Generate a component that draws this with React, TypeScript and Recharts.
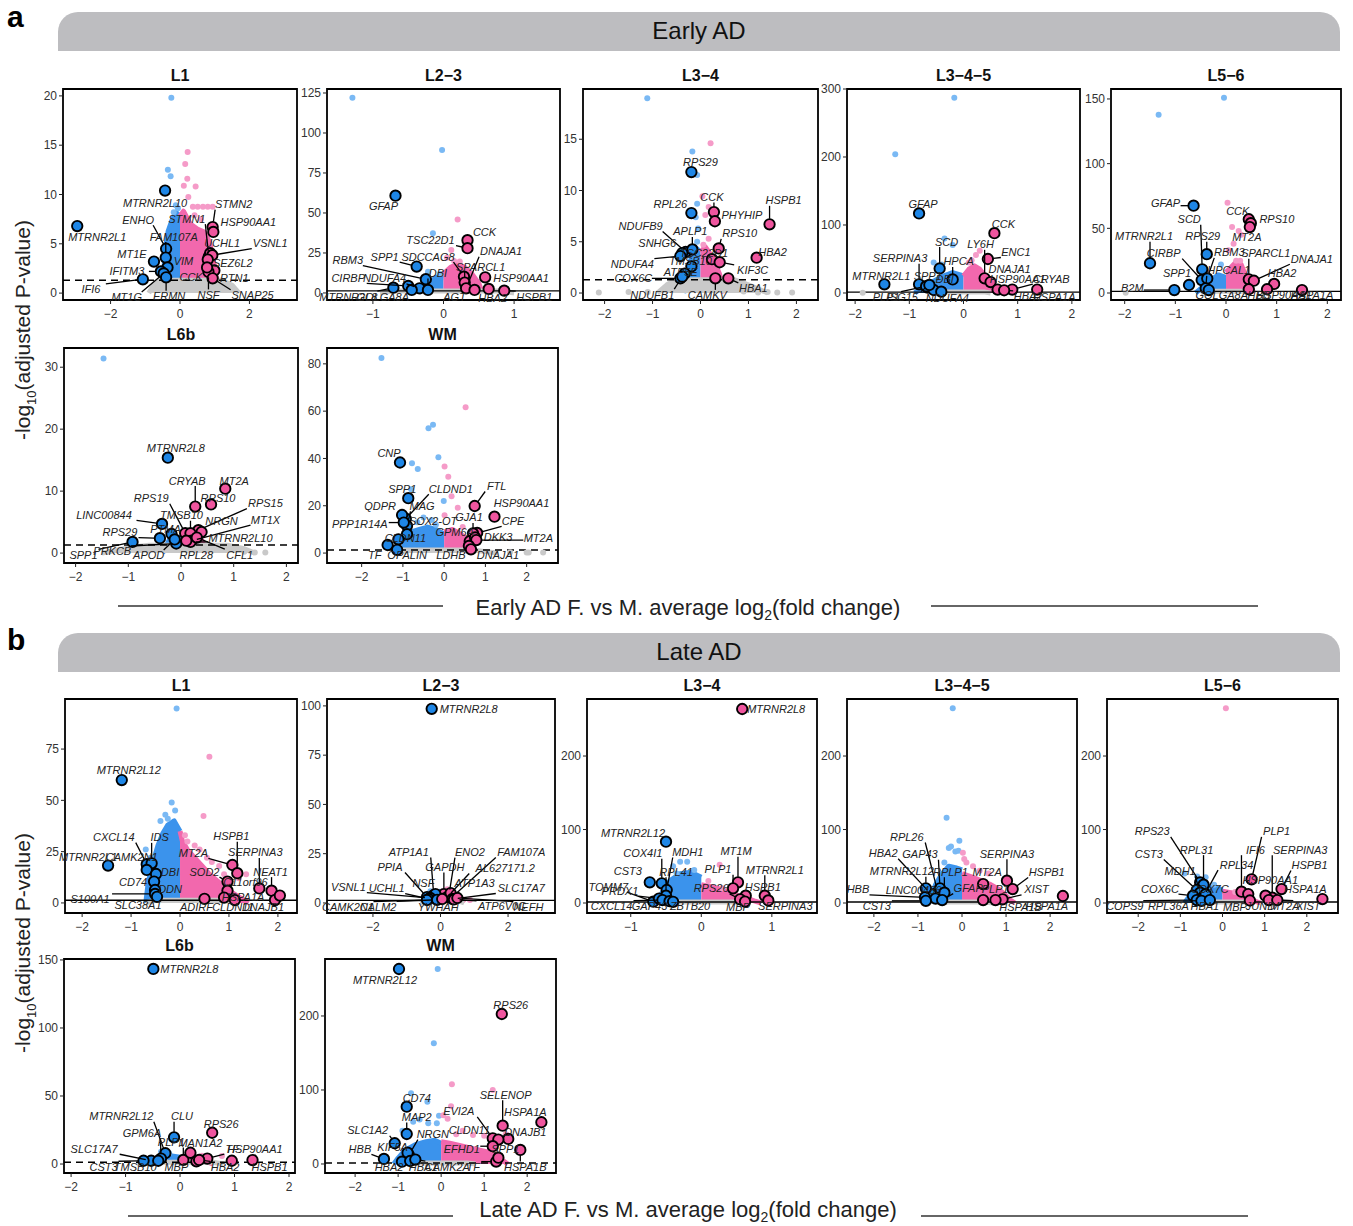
import React from 'react';
import { ComposedChart, XAxis, YAxis, Area, Scatter, ReferenceLine, ReferenceArea } from 'recharts';

type Pt = [number, number];

// ---------- Early AD ----------
const earlyL1Genes = ['MTRNR2L1', 'MTRNR2L10', 'ENHO', 'FAM107A', 'MT1E', 'VIM', 'IFITM3', 'MT1G', 'ERMN', 'IFI6', 'STMN2', 'HSP90AA1', 'STMN1', 'UCHL1', 'VSNL1', 'SEZ6L2', 'RTN1', 'NSF', 'SNAP25', 'CCK'];
const earlyL1Fc = [-2.96, -0.43, -0.4, -0.41, -0.75, -0.36, -0.55, -0.47, -0.4, -1.07, 0.94, 0.96, 0.83, 0.87, 0.93, 0.8, 0.99, 0.82, 0.94, 0.78];
const earlyL1LogP = [6.8, 10.4, 4.5, 3.6, 3.2, 2.6, 2.2, 2.0, 1.6, 1.4, 6.7, 6.2, 3.7, 4.05, 3.85, 3.4, 2.3, 2.15, 1.5, 2.6];
const earlyL1Nudge: Pt[] = [[20, 11], [-10, 12], [-28, -29], [8, -21], [-22, -8], [16, -6], [-34, 0], [-37, 24], [3, 19], [-52, 10], [21, -23], [35, -10], [-22, -38], [12, -10], [58, -12], [25, 3], [20, 8], [0, 23], [40, 17], [-16, 10]];
const earlyL1Faint: Pt[] = [[-0.25, 19.8], [-0.35, 12.5], [-0.27, 11.85], [-0.06, 8.6], [-0.12, 8.9], [-0.18, 8.2], [0.22, 14.3], [0.15, 13.1], [0.21, 11.6], [0.11, 10.9], [0.45, 10.8], [0.24, 9.75], [0.37, 8.75], [0.51, 8.75], [0.66, 8.75], [0.8, 8.75], [0.94, 8.75], [0.42, 7.9], [0.6, 7.5]];
const earlyL1Down: Pt[] = [[-0.5, 0], [-0.47, 2], [-0.42, 4.5], [-0.34, 6.3], [-0.24, 7.3], [-0.12, 8.2], [0, 7.8]];
const earlyL1Up: Pt[] = [[0, 7.8], [0.1, 8.3], [0.3, 7.0], [0.5, 6.5], [0.7, 6.2], [0.85, 5.2], [0.95, 3.5], [1.05, 1.5], [1.1, 0]];
const earlyL1Ns: Pt[] = [[-0.9, 0], [-0.75, 0.9], [-0.55, 1.3], [1.2, 1.3], [1.5, 0.8], [1.7, 0]];

const earlyL23Genes = ['GFAP', 'CCK', 'TSC22D1', 'SPP1', 'SDCCAG8', 'SPARCL1', 'DNAJA1', 'HSP90AA1', 'HBA2', 'HSPB1', 'RBM3', 'NDUFA4', 'CIRBP', 'DBI', 'MTRNR2L8', 'GOLGA8A', 'AGT'];
const earlyL23Fc = [-0.68, 0.34, 0.34, -0.38, 0.29, 0.3, 0.32, 0.59, 0.64, 0.86, -0.25, -0.34, -0.5, -0.22, -0.71, -0.45, 0.44];
const earlyL23LogP = [60.8, 33, 28, 16.5, 10.2, 6.5, 2.9, 9.8, 2.5, 1.4, 8.6, 2.9, 4.4, 1.9, 3.3, 1.9, 1.9];
const earlyL23Nudge: Pt[] = [[-12, 10], [17, -8], [-37, -8], [-32, -10], [-36, -20], [16, -16], [35, -37], [36, 1], [4, 9], [30, 6], [-78, -19], [-35, -10], [-60, -8], [10, -17], [-45, 9], [-29, 7], [-20, 7]];
const earlyL23Faint: Pt[] = [[-1.29, 122], [-0.02, 89.4], [-0.15, 37.3], [0.2, 46], [0.11, 26.9], [-0.22, 13.3], [0.23, 19.6], [0.05, 22], [-0.05, 12], [0.15, 20]];
const earlyL23Down: Pt[] = [[-0.35, 0], [-0.3, 3], [-0.2, 6], [-0.1, 10], [0, 9]];
const earlyL23Up: Pt[] = [[0, 12], [0.1, 16], [0.2, 18], [0.3, 16], [0.4, 12], [0.5, 6], [0.55, 0]];
const earlyL23Ns: Pt[] = [[-0.9, 0], [-0.7, 1.3], [0.8, 1.3], [1.0, 0]];

const earlyL34Genes = ['RPS29', 'RPL26', 'CCK', 'PHYHIP', 'HSPB1', 'NDUFB9', 'APLP1', 'SNHG6', 'NDUFA4', 'RPS10', 'TSC22D1', 'TMSB10', 'HBA2', 'KIF3C', 'ATP5E', 'COX6C', 'HBA1', 'NDUFB1', 'CAMKV'];
const earlyL34Fc = [-0.19, -0.19, 0.28, 0.3, 1.44, -0.31, -0.17, -0.38, -0.42, 0.38, 0.24, -0.19, 1.17, 0.4, -0.33, -0.42, 0.58, -0.38, 0.31];
const earlyL34LogP = [11.8, 7.8, 7.9, 7.0, 6.7, 4.0, 4.25, 3.9, 3.6, 4.35, 3.3, 2.6, 3.45, 3.0, 1.9, 1.43, 1.43, 1.6, 1.43];
const earlyL34Nudge: Pt[] = [[9, -10], [-21, -9], [-2, -15], [27, -6], [14, -24], [-45, -26], [-2, -18], [-25, -10], [-48, 8], [21, -15], [-8, -6], [-1, -5], [16, -6], [33, 8], [-4, -2], [-47, 0], [25, 10], [-30, 18], [-8, 17]];
const earlyL34Faint: Pt[] = [[-1.11, 19.0], [0.21, 14.6], [-0.17, 13.8], [-0.07, 11.5], [0.04, 9.45], [-0.07, 8.7], [0.1, 7.6], [0.17, 8.4], [-0.1, 7.4], [-0.05, 6.3], [-0.07, 5.0], [0.17, 5.3], [0.06, 4.7], [-2.12, 0.05], [1.91, 0.05], [-1.5, 0.1], [1.2, 0.05], [1.4, 0.1], [0.9, 0.15], [-1.1, 0.1], [1.6, 0.05]];
const earlyL34Down: Pt[] = [[-0.35, 0], [-0.25, 2.5], [-0.12, 4.5], [0, 4]];
const earlyL34Up: Pt[] = [[0, 4], [0.1, 4.5], [0.25, 3.5], [0.4, 1.8], [0.5, 0]];
const earlyL34Ns: Pt[] = [[-0.9, 0], [-0.7, 0.8], [-0.5, 1.3], [0.7, 1.3], [1.0, 0.8], [1.4, 0]];

const earlyL345Genes = ['GFAP', 'CCK', 'SCD', 'LY6H', 'DNAJA1', 'ENC1', 'HPCA', 'SERPINA3', 'MTRNR2L1', 'SPP1', 'DBI', 'NDUFA4', 'HSP90AA1', 'CRYAB', 'HBA2', 'HSPA1A', 'PLP1', 'ISG15'];
const earlyL345Fc = [-0.82, 0.57, -0.44, 0.39, 0.5, 0.45, -0.2, -0.82, -1.46, -0.66, -0.55, -0.41, 0.63, 0.9, 0.75, 1.36, -0.69, -0.63];
const earlyL345LogP = [117, 88, 36, 21.6, 16, 50, 20, 12.8, 12.8, 8, 4.4, 2, 5, 5, 4, 5, 10, 11.8];
const earlyL345Nudge: Pt[] = [[4, -9], [9, -9], [7, -27], [-4, -34], [19, -13], [28, -7], [6, -18], [-19, -26], [-3, -8], [0, -12], [11, -11], [6, 6], [20, -11], [39, -11], [24, 6], [17, 7], [-40, 11], [-27, 12]];
const earlyL345Faint: Pt[] = [[-0.17, 287], [-1.26, 204], [-0.35, 80], [-0.2, 70.6], [0.23, 56], [0.3, 62], [-0.55, 45], [-0.4, 42], [-1.86, 0.3], [0.1, 45], [0.15, 48]];
const earlyL345Down: Pt[] = [[-0.9, 0], [-0.8, 6], [-0.6, 15], [-0.4, 24], [-0.2, 30], [0, 25]];
const earlyL345Up: Pt[] = [[0, 25], [0.1, 35], [0.2, 40], [0.3, 35], [0.45, 20], [0.55, 8], [0.6, 0]];
const earlyL345Ns: Pt[] = [[-0.5, 0], [-0.4, 1.3], [0.4, 1.3], [0.5, 0]];

const earlyL56Genes = ['GFAP', 'CCK', 'RPS10', 'MT2A', 'SCD', 'MTRNR2L1', 'CIRBP', 'RBM3', 'HPCAL1', 'RPS29', 'SPP1', 'B2M', 'SPARCL1', 'DNAJA1', 'HBA2', 'GOLGA8A', 'HBB', 'HSP90AA1', 'HSPA1A'];
const earlyL56Fc = [-0.64, 0.45, 0.49, 0.47, -0.47, -1.5, -0.48, -0.37, -0.4, -0.38, -0.73, -1.02, 0.45, 0.55, 0.95, -0.34, 0.45, 0.81, 1.5];
const earlyL56LogP = [67.5, 57, 54, 51, 18.3, 23, 10, 11.3, 3.6, 30, 6.2, 2.3, 10.6, 9.5, 7, 2.3, 2.9, 2.9, 2.3];
const earlyL56Nudge: Pt[] = [[-28, -3], [-11, -8], [26, -4], [-3, 10], [-13, -50], [-6, -27], [-38, -27], [22, -26], [23, -18], [-4, -18], [-12, -12], [-42, -2], [17, -26], [58, -22], [8, -11], [13, 5], [10, 6], [17, 6], [10, 5]];
const earlyL56Faint: Pt[] = [[-0.04, 151], [-1.33, 137.7], [0.03, 69.8], [0.12, 51], [0.25, 48], [0.3, 45], [0.15, 38], [0.05, 33], [-0.1, 22], [0.2, 25], [0.28, 25], [-1.98, 0.3]];
const earlyL56Down: Pt[] = [[-0.6, 0], [-0.45, 5], [-0.3, 10], [-0.15, 14], [0, 12]];
const earlyL56Up: Pt[] = [[0, 16], [0.1, 20], [0.2, 24], [0.3, 22], [0.4, 12], [0.5, 4], [0.55, 0]];
const earlyL56Ns: Pt[] = [[-0.5, 0], [-0.4, 1.3], [0.4, 1.3], [0.5, 0]];

const earlyL6bGenes = ['MTRNR2L8', 'MT2A', 'CRYAB', 'RPS10', 'RPS15', 'RPS19', 'LINC00844', 'TMSB10', 'NRGN', 'MT1X', 'RPS29', 'PTMA', 'MTRNR2L10', 'SPP1', 'PRKCB', 'APOD', 'RPL28', 'CFL1'];
const earlyL6bFc = [-0.25, 0.84, 0.27, 0.57, 0.33, 0.08, -0.36, 0.18, 0.39, 0.2, -0.4, -0.18, 0.18, -0.92, -0.09, -0.12, 0.1, 0.3];
const earlyL6bLogP = [15.4, 10.4, 7.5, 7.85, 3.7, 3.2, 4.7, 3.2, 3.4, 2.0, 2.4, 3.1, 1.8, 1.8, 1.55, 2.2, 2.0, 2.5];
const earlyL6bNudge: Pt[] = [[8, -10], [9, -8], [-8, -26], [7, -6], [67, -27], [-34, -35], [-58, -9], [-9, -18], [20, -11], [74, -21], [-40, -6], [-6, -5], [50, -4], [-49, 13], [-64, 8], [-26, 16], [10, 14], [43, 17]];
const earlyL6bFaint: Pt[] = [[-1.47, 31.4], [1.4, 0.1], [1.6, 0.1], [1.2, 0.2]];
const earlyL6bDown: Pt[] = [[-0.35, 0], [-0.2, 2.5], [0, 2.5]];
const earlyL6bUp: Pt[] = [[0, 3], [0.2, 3.2], [0.4, 2], [0.5, 0]];
const earlyL6bNs: Pt[] = [[-1.5, 0], [-1.2, 0.5], [-0.9, 1.0], [-0.6, 1.25], [0.9, 1.25], [1.2, 0.7], [1.4, 0]];

const earlyWMGenes = ['CNP', 'SPP1', 'CLDND1', 'FTL', 'HSP90AA1', 'CPE', 'QDPR', 'MAG', 'PPP1R14A', 'SOX2-OT', 'GJA1', 'GPM6A', 'DKK3', 'MT2A', 'CLDN11', 'TF', 'OPALIN', 'LDHB', 'DNAJA1'];
const earlyWMFc = [-1.07, -0.87, -0.93, 0.74, 1.22, 0.8, -1.02, -0.9, -0.98, -0.9, 0.7, 0.62, 0.75, 0.78, -1.11, -1.37, -1.14, 0.6, 0.65];
const earlyWMLogP = [38.3, 23.2, 14.5, 19.9, 15.4, 8.5, 16.1, 11.5, 12.9, 8, 8.3, 5, 6.6, 5.5, 5.8, 3.4, 1.35, 3, 1.6];
const earlyWMNudge: Pt[] = [[-11, -9], [-6, -9], [45, -30], [22, -20], [27, -14], [36, -12], [-22, -9], [15, -20], [-44, 1], [26, -13], [-4, -16], [-15, -9], [23, 0], [62, -2], [7, -1], [-13, 10], [10, 5], [-18, 9], [27, 6]];
const earlyWMFaint: Pt[] = [[-1.52, 82.5], [0.52, 61.7], [-0.38, 52.8], [-0.27, 54.2], [-0.14, 40.5], [-0.78, 38], [-0.64, 35.5], [0.01, 36.6], [0.1, 32.3], [0.18, 24], [-0.01, 22], [0.33, 19.2], [0.01, 16], [-0.8, 27], [-0.5, 15], [-0.3, 14], [0.45, 11], [-0.2, 12], [-0.65, 13], [2.0, 0.2], [2.05, 0.2], [2.4, 0.2], [1.6, 0.3]];
const earlyWMDown: Pt[] = [[-1.0, 0], [-0.95, 6], [-0.8, 9], [-0.6, 10], [-0.4, 11], [-0.2, 10], [0, 8]];
const earlyWMUp: Pt[] = [[0, 9], [0.2, 10], [0.4, 8], [0.55, 6], [0.65, 2], [0.7, 0]];
const earlyWMNs: Pt[] = [[-1.2, 0], [-1.0, 1.3], [0.7, 1.3], [1.0, 0.6], [1.3, 0]];

// ---------- Late AD ----------
const lateL1Genes = ['MTRNR2L12', 'MTRNR2L1', 'CXCL14', 'IDS', 'CAMK2N1', 'DBI', 'CD74', 'DDN', 'S100A1', 'SLC38A1', 'MT2A', 'HSPB1', 'SERPINA3', 'SOD2', 'C11orf96', 'NEAT1', 'HSPA1A', 'CLDN11', 'DNAJB1', '', 'ADIRF'];
const lateL1Fc = [-1.19, -1.47, -0.68, -0.58, -0.68, -0.49, -0.53, -0.51, -0.51, -0.47, 1.07, 1.17, 1.62, 0.97, 0.97, 1.87, 0.9, 1.12, 1.94, 2.04, 0.5];
const lateL1LogP = [59.9, 18.2, 18.9, 19.3, 16.1, 14.1, 10.4, 6.3, 4.4, 3, 18.5, 14.5, 7.1, 10.4, 6, 6, 2.6, 1.4, 1.4, 3.6, 2];
const lateL1Nudge: Pt[] = [[7, -10], [-20, -9], [-33, -27], [8, -26], [-15, -13], [14, -2], [-21, 0], [15, -1], [-65, 5], [-19, 8], [-39, -12], [-6, -37], [-4, -36], [-23, -10], [18, -9], [-1, -19], [19, -1], [-2, 7], [-12, 7], [0, 0], [-8, 8]];
const lateL1Faint: Pt[] = [[-0.07, 94.8], [0.6, 71.3], [-0.17, 48.9], [0.48, 42.4], [-0.3, 43], [-0.4, 40], [-0.25, 41], [0.15, 30], [0.3, 28], [0.4, 26], [0.55, 22], [0.65, 20], [0.8, 18], [1.0, 19], [1.35, 14], [1.2, 12], [0.9, 14], [-0.7, 26], [-0.6, 22], [0.1, 33], [-0.1, 45]];
const lateL1Down: Pt[] = [[-0.7, 0], [-0.65, 10], [-0.55, 20], [-0.45, 28], [-0.35, 34], [-0.25, 38], [-0.12, 40], [0, 35]];
const lateL1Up: Pt[] = [[0, 35], [0.05, 30], [0.15, 26], [0.3, 22], [0.45, 18], [0.6, 14], [0.8, 10], [1.0, 6], [1.2, 3], [1.4, 0]];
const lateL1Ns: Pt[] = [[-0.7, 0], [-0.5, 1.3], [0.9, 1.3], [1.2, 0]];

const lateL23Genes = ['MTRNR2L8', 'ATP1A1', 'ENO2', 'FAM107A', 'PPIA', 'GAPDH', 'AL627171.2', 'NSF', 'ATP1A3', 'SLC17A7', 'VSNL1', 'UCHL1', 'CAMK2N1', 'CALM2', 'YWHAH', 'ATP6V0C', 'NEFH'];
const lateL23Fc = [-0.26, -0.2, 0.25, 0.35, -0.4, 0.1, 0.2, -0.15, 0.3, 0.35, -0.3, -0.35, -0.4, -0.1, 0.05, 0.4, 0.5];
const lateL23LogP = [98.5, 4, 4, 3, 3, 4.5, 3, 4.5, 5, 2, 2.5, 2, 1.5, 1.6, 2, 1.8, 2.5];
const lateL23Nudge: Pt[] = [[37, 0], [-25, -43], [21, -43], [69, -45], [-37, -30], [1, -27], [58, -29], [-12, -11], [24, -10], [69, -11], [-82, -11], [-42, -11], [-79, 7], [-59, 7], [-4, 8], [48, 7], [71, 9]];
const lateL23Faint: Pt[] = [[0.87, 1.5], [-0.3, 6], [0.2, 7], [0.4, 4], [0.6, 2.5]];
const lateL23Down: Pt[] = [[-0.5, 0], [-0.4, 3], [-0.2, 5], [0, 6]];
const lateL23Up: Pt[] = [[0, 6], [0.2, 6], [0.4, 4], [0.6, 2], [0.7, 0]];
const lateL23Ns: Pt[] = [[-0.6, 0], [-0.4, 1.3], [0.5, 1.3], [0.7, 0]];

const lateL34Genes = ['MTRNR2L8', 'MTRNR2L12', 'COX4I1', 'MDH1', 'CST3', 'RPL41', 'TOMM7', 'PRDX1', 'CXCL14', 'GAP43', 'MT1M', 'PLP1', 'MTRNR2L1', 'HSPB1', 'RPS26', 'SERPINA3', 'MBP', 'ZBTB20'];
const lateL34Fc = [0.58, -0.5, -0.56, -0.49, -0.73, -0.5, -0.68, -0.6, -0.55, -0.45, 0.52, 0.45, 0.9, 0.63, 0.55, 0.95, 0.62, -0.4];
const lateL34LogP = [264, 83.4, 26.8, 17.7, 28.1, 10, 1.8, 6, 4, 2.5, 28.1, 20, 10, 10, 5, 3.5, 2, 1.6];
const lateL34Nudge: Pt[] = [[34, 0], [-33, -9], [-19, -30], [21, -38], [-22, -11], [10, -24], [-45, -15], [-39, -8], [-51, 6], [-20, 5], [-2, -31], [-15, -19], [10, -26], [17, -9], [-29, -11], [17, 6], [-7, 5], [17, 4]];
const lateL34Faint: Pt[] = [[-0.3, 56], [-0.2, 56], [-0.4, 50], [-0.1, 45], [-0.35, 40], [0.26, 52], [0.5, 24], [0.3, 20], [0.1, 30]];
const lateL34Down: Pt[] = [[-0.65, 0], [-0.55, 15], [-0.45, 30], [-0.3, 40], [-0.15, 42], [0, 35]];
const lateL34Up: Pt[] = [[0, 25], [0.15, 22], [0.3, 18], [0.45, 12], [0.6, 8], [0.75, 3], [0.85, 0]];
const lateL34Ns: Pt[] = [[-0.5, 0], [-0.3, 1.3], [0.5, 1.3], [0.7, 0]];

const lateL345Genes = ['RPL26', 'HBA2', 'GAP43', 'MTRNR2L12', 'RPLP1', 'HBB', 'LINC00486', 'GFAP', 'CST3', 'SERPINA3', 'MT2A', 'HSPB1', 'XIST', 'PLP1', 'HSPA1A', 'HSPA1B'];
const lateL345Fc = [-0.55, -0.7, -0.5, -0.82, -0.4, -0.84, -0.6, -0.45, -0.82, 1.02, 0.48, 1.15, 0.92, 0.48, 2.29, 0.76];
const lateL345LogP = [15, 12, 20, 20, 14, 7.7, 6, 4, 3, 30.4, 25.8, 19, 5, 4, 9.5, 4];
const lateL345Nudge: Pt[] = [[-31, -55], [-48, -41], [-20, -34], [-24, -17], [6, -21], [-67, -8], [-22, -9], [26, -12], [-49, 5], [0, -27], [4, -12], [34, -17], [34, -10], [12, -11], [-16, 10], [25, 7]];
const lateL345Faint: Pt[] = [[-0.21, 265], [-0.35, 116], [-0.06, 84.8], [-0.3, 75], [-0.25, 77], [-0.15, 70], [-0.08, 71], [0.02, 68.5], [0.05, 60], [0.1, 55], [-0.4, 55], [0.25, 50], [0.6, 40], [0.4, 44]];
const lateL345Down: Pt[] = [[-0.75, 0], [-0.7, 10], [-0.6, 25], [-0.45, 40], [-0.3, 50], [-0.15, 48], [0, 45]];
const lateL345Up: Pt[] = [[0, 40], [0.1, 38], [0.25, 35], [0.45, 30], [0.65, 25], [0.85, 18], [1.0, 10], [1.1, 4], [1.2, 0]];
const lateL345Ns: Pt[] = [[-0.5, 0], [-0.3, 1.3], [0.5, 1.3], [0.7, 0]];

const lateL56Genes = ['RPS23', 'RPL31', 'CST3', 'MDH1', 'RPL34', 'COX6C', 'COX7C', 'COPS9', 'RPL36A', 'HBA1', 'PLP1', 'IFI6', 'SERPINA3', 'HSPB1', 'HSP90AA1', 'HSPA1A', 'MBP', 'JUND', 'MT2A', 'XIST'];
const lateL56Fc = [-0.53, -0.45, -0.61, -0.53, -0.45, -0.7, -0.4, -0.61, -0.5, -0.3, 0.69, 0.45, 1.18, 1.4, 0.61, 2.37, 0.65, 1.02, 1.1, 1.3];
const lateL56LogP = [28, 25, 17.7, 14, 8.6, 10, 12, 4, 3, 4, 32.2, 15.4, 7.3, 19, 12.2, 5.4, 3.4, 10, 4, 4];
const lateL56Nudge: Pt[] = [[-48, -51], [-7, -35], [-48, -36], [-20, -22], [33, -32], [-33, -7], [4, -5], [-72, 6], [-33, 5], [-5, 6], [25, -48], [14, -42], [28, -48], [28, -24], [22, -14], [-17, -10], [-15, 6], [-5, 10], [16, 6], [31, 6]];
const lateL56Faint: Pt[] = [[0.08, 265], [-0.9, 40], [-0.4, 35], [-0.6, 36], [-0.2, 25], [0.3, 15], [0.5, 12]];
const lateL56Down: Pt[] = [[-0.9, 0], [-0.8, 8], [-0.6, 15], [-0.4, 20], [-0.2, 22], [0, 18]];
const lateL56Up: Pt[] = [[0, 16], [0.2, 14], [0.4, 10], [0.6, 6], [0.8, 2], [0.9, 0]];
const lateL56Ns: Pt[] = [[-0.5, 0], [-0.3, 1.3], [0.5, 1.3], [0.7, 0]];

const lateL6bGenes = ['MTRNR2L8', 'RPS26', 'CLU', 'MTRNR2L12', 'GPM6A', 'SLC17A7', 'PLP1', 'MAN1A2', 'TF', 'HSP90AA1', 'HSPB1', 'CST3', 'TMSB10', 'MBP', 'HBA2'];
const lateL6bFc = [-0.49, 0.59, -0.11, -0.27, -0.35, -0.53, 0.06, 0.19, 0.5, 0.95, 1.33, -0.67, -0.4, 0.3, 0.35];
const lateL6bLogP = [143.4, 23, 19.6, 7.9, 4, 2.4, 3, 8.3, 4, 2.4, 2.9, 2.4, 2.4, 2, 3];
const lateL6bNudge: Pt[] = [[36, 0], [9, -9], [8, -21], [-44, -37], [-19, -26], [-57, -12], [-12, -18], [10, -10], [25, -10], [23, -12], [17, 7], [-40, 6], [-23, 6], [-20, 6], [26, 7]];
const lateL6bFaint: Pt[] = [[0.77, 5.9], [0.55, 4], [0.4, 6], [-0.2, 8], [-0.35, 9]];
const lateL6bDown: Pt[] = [[-0.5, 0], [-0.35, 4], [-0.15, 6], [0, 5]];
const lateL6bUp: Pt[] = [[0, 5], [0.2, 5], [0.4, 3], [0.6, 0]];
const lateL6bNs: Pt[] = [[-0.8, 0], [-0.6, 1.3], [0.6, 1.3], [0.8, 0]];

const lateWMGenes = ['MTRNR2L12', 'RPS26', 'CD74', 'MAP2', 'SLC1A2', 'NRGN', 'HBB', 'KIF5A', 'HBA2', 'HBA1', 'CAMK2A', 'TF', 'SELENOP', 'HSPA1A', 'EVI2A', 'DNAJB1', 'CLDN11', 'EFHD1', 'SPP1', 'HSPA1B'];
const lateWMFc = [-0.98, 1.41, -0.8, -0.8, -1.08, -0.75, -1.33, -0.78, -0.91, -0.72, -0.6, 1.28, 1.43, 2.33, 1.2, 1.56, 1.33, 1.2, 1.33, 1.84];
const lateWMLogP = [263.5, 202.7, 77.4, 40.5, 28, 12, 6.8, 15.3, 3.1, 4, 6, 3.2, 51.8, 56.4, 34.7, 33.8, 33, 24, 8.5, 19];
const lateWMNudge: Pt[] = [[-14, 11], [9, -9], [10, -9], [10, -17], [-27, -13], [24, -21], [-24, -10], [-15, -6], [-13, 5], [13, 6], [32, 7], [-23, 5], [3, -31], [-16, -10], [-34, -27], [17, -7], [-29, -10], [-31, 3], [7, -9], [5, 17]];
const lateWMFaint: Pt[] = [[-0.08, 263.5], [-0.17, 163], [-0.7, 95.5], [-0.32, 84], [-0.5, 60], [-0.65, 57], [-0.3, 55], [-0.1, 55], [-0.9, 45], [-0.05, 65], [0.25, 107.7], [0.23, 78], [1.2, 100], [0.05, 66], [0.15, 61], [0.74, 39], [0.5, 45], [1.0, 38], [0.35, 40], [1.5, 40]];
const lateWMDown: Pt[] = [[-1.1, 0], [-1.0, 8], [-0.85, 18], [-0.6, 26], [-0.35, 30], [-0.15, 32], [0, 28]];
const lateWMUp: Pt[] = [[0, 30], [0.2, 28], [0.5, 24], [0.8, 20], [1.1, 16], [1.3, 10], [1.45, 4], [1.55, 0]];
const lateWMNs: Pt[] = [[-0.8, 0], [-0.6, 1.3], [0.6, 1.3], [0.8, 0]];

// ---------- styling ----------
const FONT = '"Liberation Sans", Arial, Helvetica, sans-serif';
const SIG = 1.3; // -log10(0.05)
const HIT_DOWN = '#1e86e6';
const HIT_UP = '#ef559e';
const CLOUD_DOWN = '#3b93ec';
const CLOUD_UP = '#f268ad';
const FAINT_DOWN = '#7ab9f4';
const FAINT_UP = '#f59bc8';
const NS_GREY = '#c9c9c9';
const PAD_TOP = 10;

interface PanelSpec {
  title: string;
  box: [number, number, number, number]; // left, top, width, height of plotting area
  xDomain: [number, number];
  xTicks: number[];
  yDomain: [number, number];
  yTicks: number[];
  dashed: boolean;
  genes: string[];
  fc: number[];
  logp: number[];
  nudge: Pt[];
  faint: Pt[];
  down: Pt[];
  up: Pt[];
  ns: Pt[];
}

const X5 = [-2, -1, 0, 1, 2];

const earlyPanels: PanelSpec[] = [
  { title: 'L1', box: [63, 89, 234, 211], xDomain: [-3.37, 3.37], xTicks: [-2, 0, 2], yDomain: [-0.7, 20.7], yTicks: [0, 5, 10, 15, 20], dashed: true,
    genes: earlyL1Genes, fc: earlyL1Fc, logp: earlyL1LogP, nudge: earlyL1Nudge, faint: earlyL1Faint, down: earlyL1Down, up: earlyL1Up, ns: earlyL1Ns },
  { title: 'L2\u22123', box: [327, 89, 233, 211], xDomain: [-1.65, 1.65], xTicks: [-1, 0, 1], yDomain: [-4.4, 127.5], yTicks: [0, 25, 50, 75, 100, 125], dashed: false,
    genes: earlyL23Genes, fc: earlyL23Fc, logp: earlyL23LogP, nudge: earlyL23Nudge, faint: earlyL23Faint, down: earlyL23Down, up: earlyL23Up, ns: earlyL23Ns },
  { title: 'L3\u22124', box: [583, 89, 235, 211], xDomain: [-2.45, 2.45], xTicks: X5, yDomain: [-0.68, 19.9], yTicks: [0, 5, 10, 15], dashed: true,
    genes: earlyL34Genes, fc: earlyL34Fc, logp: earlyL34LogP, nudge: earlyL34Nudge, faint: earlyL34Faint, down: earlyL34Down, up: earlyL34Up, ns: earlyL34Ns },
  { title: 'L3\u22124\u22125', box: [847, 89, 233, 211], xDomain: [-2.15, 2.15], xTicks: X5, yDomain: [-10.3, 300], yTicks: [0, 100, 200, 300], dashed: false,
    genes: earlyL345Genes, fc: earlyL345Fc, logp: earlyL345LogP, nudge: earlyL345Nudge, faint: earlyL345Faint, down: earlyL345Down, up: earlyL345Up, ns: earlyL345Ns },
  { title: 'L5\u22126', box: [1111, 89, 230, 211], xDomain: [-2.27, 2.27], xTicks: X5, yDomain: [-5.4, 157.7], yTicks: [0, 50, 100, 150], dashed: false,
    genes: earlyL56Genes, fc: earlyL56Fc, logp: earlyL56LogP, nudge: earlyL56Nudge, faint: earlyL56Faint, down: earlyL56Down, up: earlyL56Up, ns: earlyL56Ns },
  { title: 'L6b', box: [64, 348, 234, 215], xDomain: [-2.22, 2.22], xTicks: X5, yDomain: [-1.6, 33.1], yTicks: [0, 10, 20, 30], dashed: true,
    genes: earlyL6bGenes, fc: earlyL6bFc, logp: earlyL6bLogP, nudge: earlyL6bNudge, faint: earlyL6bFaint, down: earlyL6bDown, up: earlyL6bUp, ns: earlyL6bNs },
  { title: 'WM', box: [327, 348, 231, 215], xDomain: [-2.84, 2.76], xTicks: X5, yDomain: [-4.2, 86.7], yTicks: [0, 20, 40, 60, 80], dashed: true,
    genes: earlyWMGenes, fc: earlyWMFc, logp: earlyWMLogP, nudge: earlyWMNudge, faint: earlyWMFaint, down: earlyWMDown, up: earlyWMUp, ns: earlyWMNs },
];

const latePanels: PanelSpec[] = [
  { title: 'L1', box: [65, 699, 232, 214], xDomain: [-2.35, 2.39], xTicks: X5, yDomain: [-4.9, 99.4], yTicks: [0, 25, 50, 75], dashed: false,
    genes: lateL1Genes, fc: lateL1Fc, logp: lateL1LogP, nudge: lateL1Nudge, faint: lateL1Faint, down: lateL1Down, up: lateL1Up, ns: lateL1Ns },
  { title: 'L2\u22123', box: [327, 699, 228, 214], xDomain: [-3.36, 3.39], xTicks: [-2, 0, 2], yDomain: [-5.1, 103.5], yTicks: [0, 25, 50, 75, 100], dashed: false,
    genes: lateL23Genes, fc: lateL23Fc, logp: lateL23LogP, nudge: lateL23Nudge, faint: lateL23Faint, down: lateL23Down, up: lateL23Up, ns: lateL23Ns },
  { title: 'L3\u22124', box: [587, 699, 230, 214], xDomain: [-1.62, 1.64], xTicks: [-1, 0, 1], yDomain: [-13.6, 277.6], yTicks: [0, 100, 200], dashed: false,
    genes: lateL34Genes, fc: lateL34Fc, logp: lateL34LogP, nudge: lateL34Nudge, faint: lateL34Faint, down: lateL34Down, up: lateL34Up, ns: lateL34Ns },
  { title: 'L3\u22124\u22125', box: [847, 699, 230, 214], xDomain: [-2.61, 2.61], xTicks: X5, yDomain: [-13.6, 277.6], yTicks: [0, 100, 200], dashed: false,
    genes: lateL345Genes, fc: lateL345Fc, logp: lateL345LogP, nudge: lateL345Nudge, faint: lateL345Faint, down: lateL345Down, up: lateL345Up, ns: lateL345Ns },
  { title: 'L5\u22126', box: [1107, 699, 231, 214], xDomain: [-2.74, 2.74], xTicks: X5, yDomain: [-13.6, 277.6], yTicks: [0, 100, 200], dashed: false,
    genes: lateL56Genes, fc: lateL56Fc, logp: lateL56LogP, nudge: lateL56Nudge, faint: lateL56Faint, down: lateL56Down, up: lateL56Up, ns: lateL56Ns },
  { title: 'L6b', box: [64, 959, 231, 214], xDomain: [-2.13, 2.11], xTicks: X5, yDomain: [-6.6, 150.7], yTicks: [0, 50, 100, 150], dashed: true,
    genes: lateL6bGenes, fc: lateL6bFc, logp: lateL6bLogP, nudge: lateL6bNudge, faint: lateL6bFaint, down: lateL6bDown, up: lateL6bUp, ns: lateL6bNs },
  { title: 'WM', box: [325, 959, 231, 214], xDomain: [-2.7, 2.67], xTicks: X5, yDomain: [-12.2, 277], yTicks: [0, 100, 200], dashed: true,
    genes: lateWMGenes, fc: lateWMFc, logp: lateWMLogP, nudge: lateWMNudge, faint: lateWMFaint, down: lateWMDown, up: lateWMUp, ns: lateWMNs },
];

const fmtTick = (v: number) => (v < 0 ? `\u2212${Math.abs(v)}` : String(v));
const asXY = (pts: Pt[]) => pts.map(([x, y]) => ({ x, y }));

const FaintDot = (props: any) => {
  const { cx, cy, payload } = props;
  const fill = payload.y < SIG ? NS_GREY : payload.x < 0 ? FAINT_DOWN : FAINT_UP;
  return <circle cx={cx} cy={cy} r={3} fill={fill} />;
};

const HitDot = (props: any) => {
  const { cx, cy, payload } = props;
  return <circle cx={cx} cy={cy} r={5.2} fill={payload.x < 0 ? HIT_DOWN : HIT_UP} stroke="#000" strokeWidth={1.9} />;
};

// gene name with a repel-style leader segment running to the nearest edge of the label
const GeneLabel = (props: any) => {
  const { cx, cy, payload } = props;
  if (!payload.gene) return <g />;
  const [dx, dy] = payload.nudge;
  const lx = cx + dx;
  const ly = cy + dy;
  const hw = payload.gene.length * 3.5 + 1;
  const hh = 5.5;
  const nx = Math.min(Math.max(cx, lx - hw), lx + hw);
  const ny = Math.min(Math.max(cy, ly - hh), ly + hh);
  const d = Math.hypot(nx - cx, ny - cy);
  return (
    <g>
      {d > 9 && (
        <line x1={cx + ((nx - cx) / d) * 5.5} y1={cy + ((ny - cy) / d) * 5.5} x2={nx} y2={ny} stroke="#000" strokeWidth={1.3} />
      )}
      <text x={lx} y={ly} textAnchor="middle" dominantBaseline="central" fontSize={11} fontStyle="italic" fill="#222" fontFamily={FONT}>
        {payload.gene}
      </text>
    </g>
  );
};

function Volcano({ p }: { p: PanelSpec }) {
  const [left, top, w, h] = p.box;
  const hits = p.genes.map((gene, i) => ({ x: p.fc[i], y: p.logp[i], gene, nudge: p.nudge[i] }));
  const tickStyle = { fontSize: 12, fill: '#333', fontFamily: FONT };
  return (
    <div style={{ position: 'absolute', left: left - 40, top: top - PAD_TOP }}>
      <ComposedChart width={w + 42} height={h + PAD_TOP + 24} margin={{ top: PAD_TOP, right: 2, bottom: 0, left: 0 }}>
        <XAxis type="number" dataKey="x" domain={p.xDomain} ticks={p.xTicks} interval={0} axisLine={false}
          tickLine={{ stroke: '#222' }} tickSize={4} tickMargin={5} height={24} tick={tickStyle} tickFormatter={fmtTick} />
        <YAxis type="number" dataKey="y" domain={p.yDomain} ticks={p.yTicks} interval={0} axisLine={false}
          tickLine={{ stroke: '#222' }} tickSize={4} tickMargin={2} width={40} tick={tickStyle} tickFormatter={fmtTick} />
        <Area data={asXY(p.down)} dataKey="y" type="linear" baseValue={0} fill={CLOUD_DOWN} fillOpacity={1}
          stroke={CLOUD_DOWN} strokeWidth={5} strokeLinejoin="round" dot={false} activeDot={false} isAnimationActive={false} />
        <Area data={asXY(p.up)} dataKey="y" type="linear" baseValue={0} fill={CLOUD_UP} fillOpacity={1}
          stroke={CLOUD_UP} strokeWidth={5} strokeLinejoin="round" dot={false} activeDot={false} isAnimationActive={false} />
        <Area data={asXY(p.ns)} dataKey="y" type="linear" baseValue={0} fill={NS_GREY} fillOpacity={1}
          stroke={NS_GREY} strokeWidth={5} strokeLinejoin="round" dot={false} activeDot={false} isAnimationActive={false} />
        <Scatter data={asXY(p.faint)} shape={FaintDot} isAnimationActive={false} />
        <ReferenceLine y={SIG} stroke="#000" strokeWidth={1.4} strokeDasharray={p.dashed ? '7 5' : undefined} />
        <Scatter data={hits} shape={HitDot} isAnimationActive={false} />
        <Scatter data={hits} shape={GeneLabel} isAnimationActive={false} />
        <ReferenceArea x1={p.xDomain[0]} x2={p.xDomain[1]} y1={p.yDomain[0]} y2={p.yDomain[1]} fill="none" stroke="#000" strokeWidth={1.8} />
      </ComposedChart>
    </div>
  );
}

const Banner = ({ y, label }: { y: number; label: string }) => {
  const x0 = 58, x1 = 1340, r = 20, bottom = y + 39;
  const d = `M${x0},${bottom} L${x0},${y + r} A${r},${r} 0 0 1 ${x0 + r},${y} L${x1 - r},${y} A${r},${r} 0 0 1 ${x1},${y + r} L${x1},${bottom} Z`;
  return (
    <g>
      <path d={d} fill="#bdbdc0" />
      <text x={699} y={y + 27} textAnchor="middle" fontSize={24} fill="#111" fontFamily={FONT}>{label}</text>
    </g>
  );
};

const XTitle = ({ y, lineY, lead, l0, l1, r0, r1 }: { y: number; lineY: number; lead: string; l0: number; l1: number; r0: number; r1: number }) => (
  <g>
    <line x1={l0} x2={l1} y1={lineY} y2={lineY} stroke="#333" strokeWidth={1.5} />
    <line x1={r0} x2={r1} y1={lineY} y2={lineY} stroke="#333" strokeWidth={1.5} />
    <text x={688} y={y} textAnchor="middle" fontSize={22} fill="#222" fontFamily={FONT}>
      {lead} F. vs M. average log<tspan dy={5} fontSize={14}>2</tspan><tspan dy={-5}>(fold change)</tspan>
    </text>
  </g>
);

const YTitle = ({ cy }: { cy: number }) => (
  <text transform={`translate(30, ${cy}) rotate(-90)`} textAnchor="middle" fontSize={21} fill="#222" fontFamily={FONT}>
    -log<tspan dy={6} fontSize={13}>10</tspan><tspan dy={-6}>(adjusted P-value)</tspan>
  </text>
);

export default function App() {
  const all = [...earlyPanels, ...latePanels];
  return (
    <div style={{ position: 'absolute', left: 0, top: 0, width: 1353, height: 1226, background: '#fff', overflow: 'hidden', fontFamily: FONT }}>
      {all.map((p, i) => (
        <Volcano key={i} p={p} />
      ))}
      <svg width={1353} height={1226} style={{ position: 'absolute', left: 0, top: 0, pointerEvents: 'none' }}>
        <text x={7} y={27} fontSize={30} fontWeight="bold" fill="#000" fontFamily={FONT}>a</text>
        <text x={7} y={650} fontSize={30} fontWeight="bold" fill="#000" fontFamily={FONT}>b</text>
        <Banner y={12} label="Early AD" />
        <Banner y={633} label="Late AD" />
        {all.map((p, i) => (
          <text key={i} x={p.box[0] + p.box[2] / 2} y={p.box[1] - 8} textAnchor="middle" fontSize={16} fontWeight="bold" fill="#111" fontFamily={FONT}>
            {p.title}
          </text>
        ))}
        <XTitle y={615} lineY={606} lead="Early AD" l0={118} l1={443} r0={931} r1={1258} />
        <XTitle y={1217} lineY={1216} lead="Late AD" l0={128} l1={453} r0={921} r1={1248} />
        <YTitle cy={330} />
        <YTitle cy={943} />
      </svg>
    </div>
  );
}
